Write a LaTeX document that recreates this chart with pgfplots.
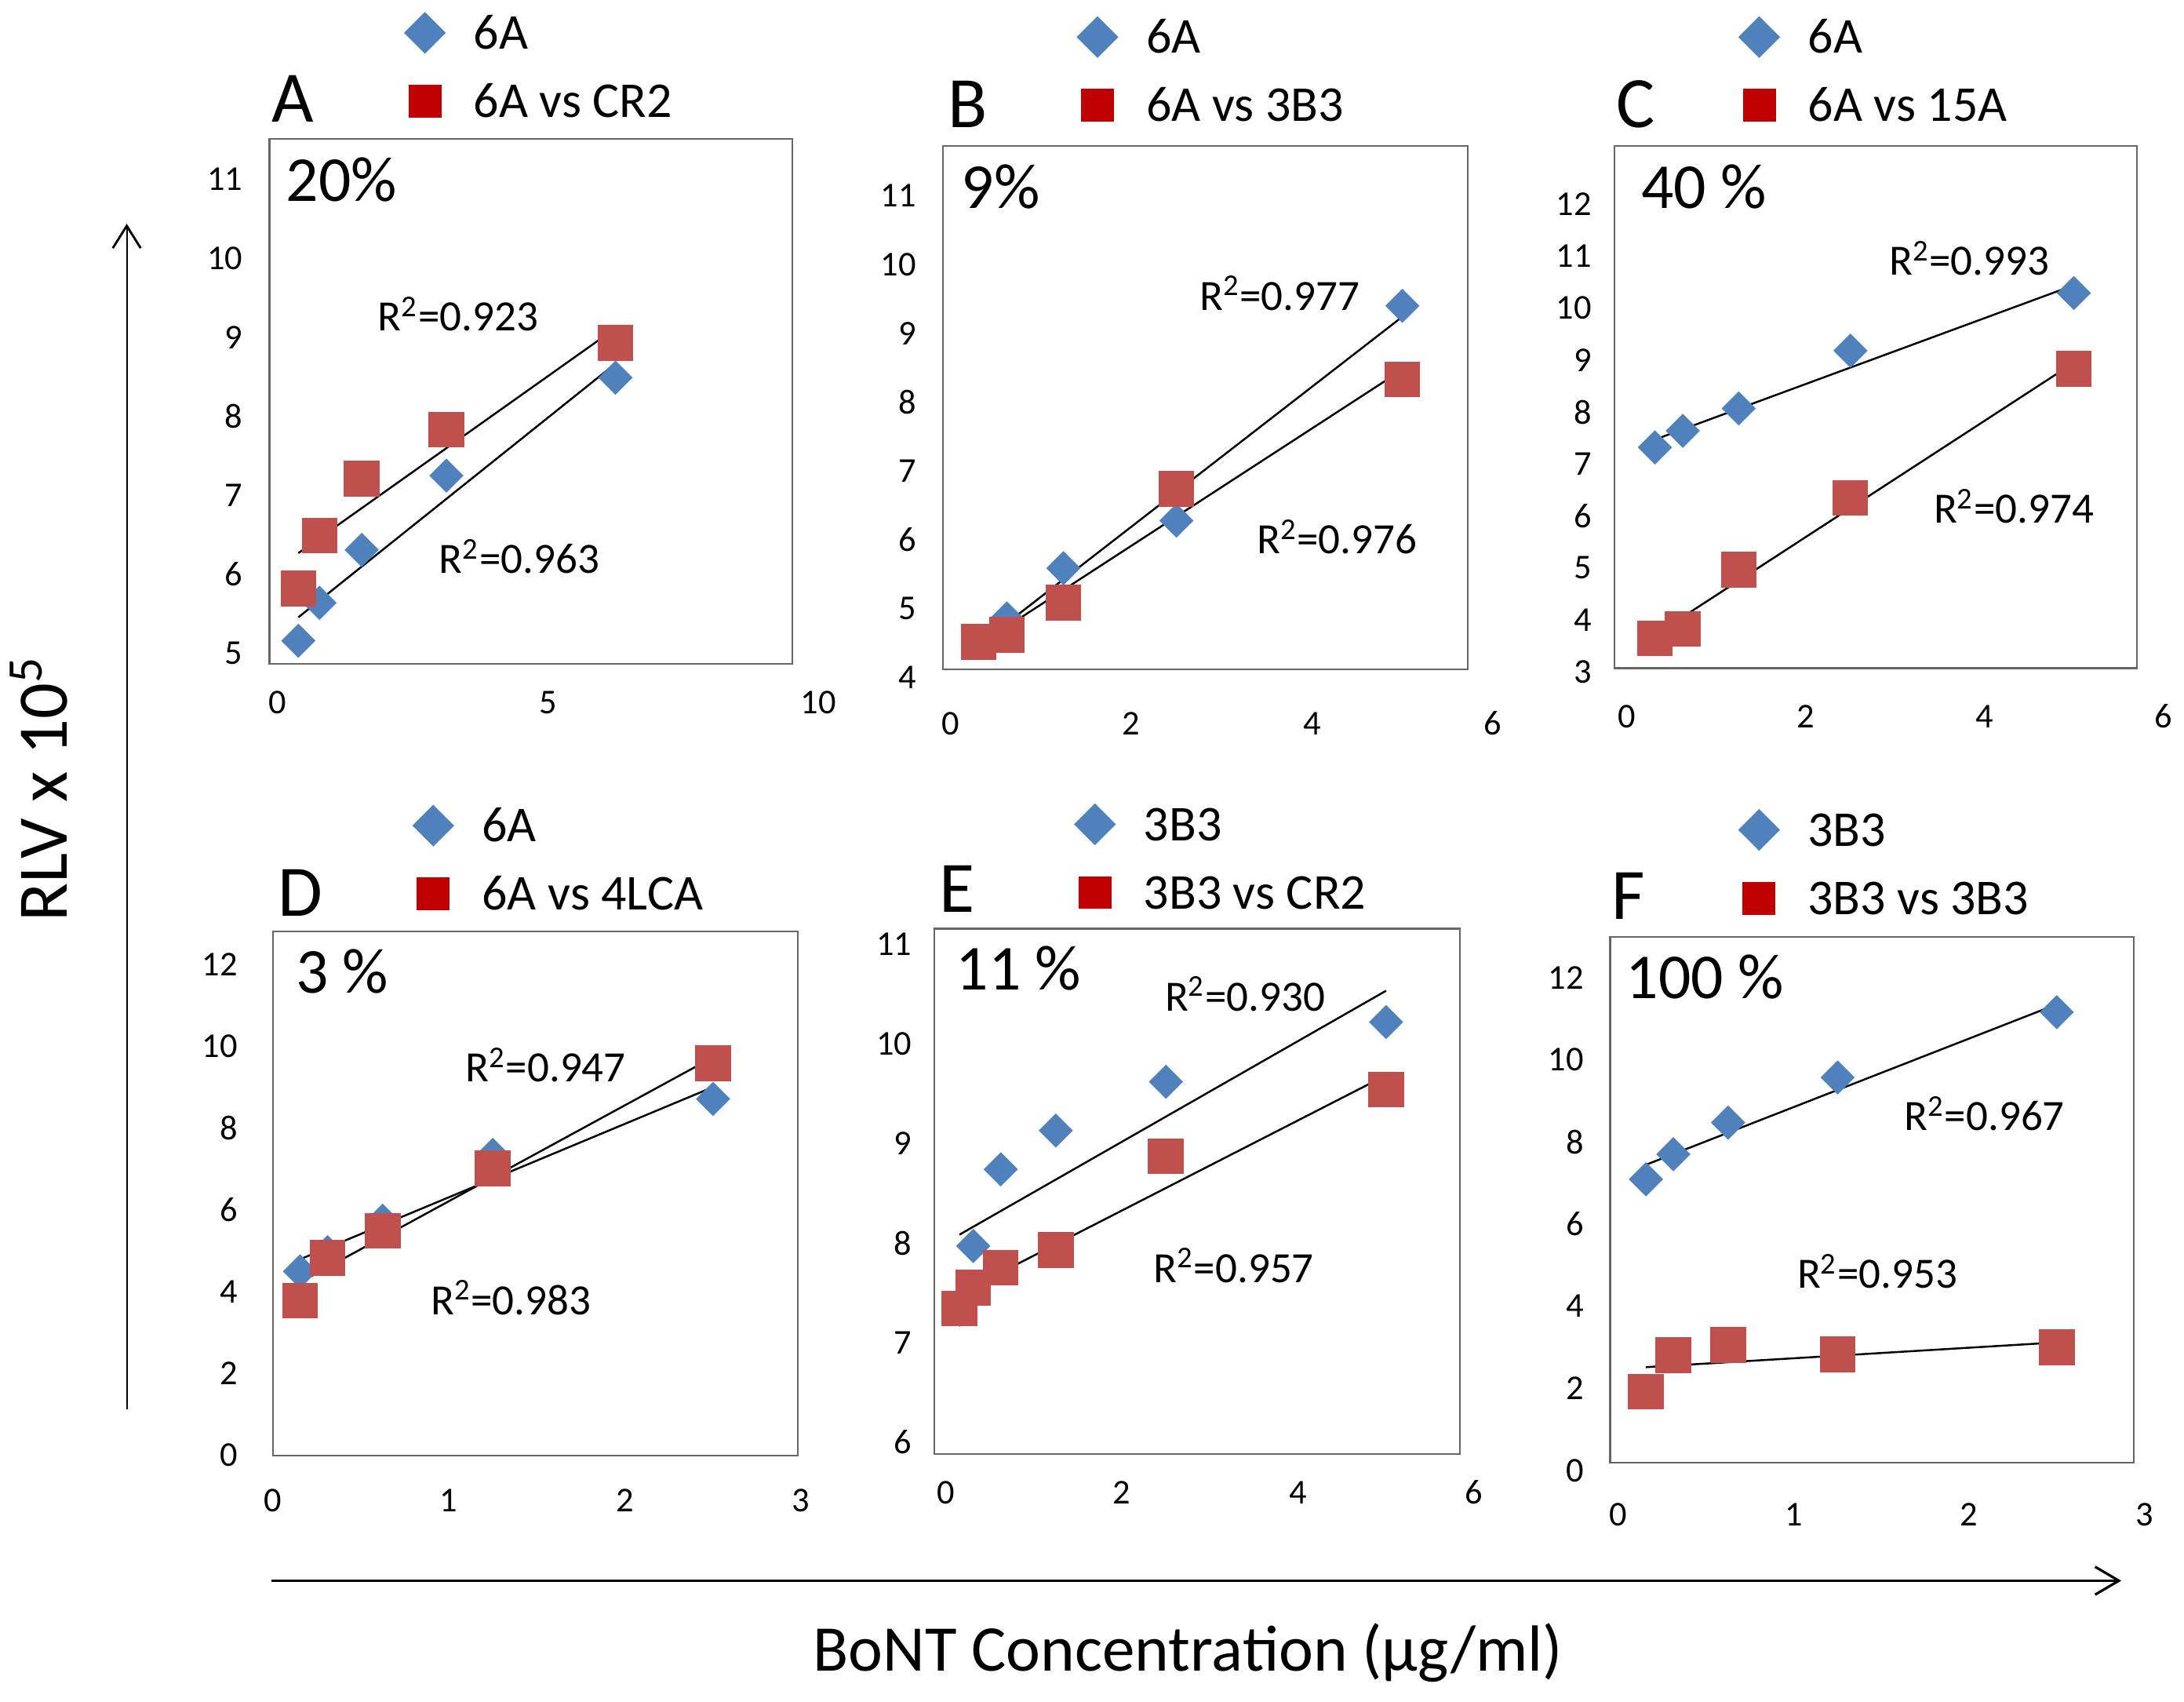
\documentclass[border=0pt]{standalone}
\usepackage{fontspec}
\setmainfont{Carlito}
\usepackage{pgfplots}
\usepackage{pgfplotstable}
\pgfplotsset{compat=1.18}
\usetikzlibrary{arrows.meta}

\definecolor{bl}{HTML}{4F81BD}
\definecolor{rd}{HTML}{C0504D}
\definecolor{lrd}{HTML}{C00000}

\pgfplotstableread{
x b r
0.39 5.16 5.82
0.78 5.64 6.49
1.56 6.31 7.21
3.125 7.25 7.83
6.25 8.49 8.93
}\tabA
\pgfplotstableread{
x b r
0.3125 4.50 4.52
0.625 4.86 4.62
1.25 5.59 5.09
2.5 6.28 6.74
5 9.40 8.33
}\tabB
\pgfplotstableread{
x b r
0.3125 7.32 3.65
0.625 7.64 3.83
1.25 8.07 4.97
2.5 9.18 6.35
5 10.29 8.83
}\tabC
\pgfplotstableread{
x b r
0.156 4.50 3.78
0.3125 4.97 4.83
0.625 5.74 5.49
1.25 7.35 7.02
2.5 8.72 9.59
}\tabD
\pgfplotstableread{
x b r
0.156 7.33 7.34
0.3125 7.97 7.55
0.625 8.74 7.75
1.25 9.13 7.93
2.5 9.62 8.87
5 10.22 9.54
}\tabE
\pgfplotstableread{
x b r
0.156 7.09 1.92
0.3125 7.70 2.81
0.625 8.47 3.06
1.25 9.57 2.83
2.5 11.16 3.00
}\tabF

\pgfplotsset{
  panel/.style={scale only axis, clip=false, xtick=\empty, ytick=\empty,
    axis line style={draw=black!60, line width=0.6bp},
    legend cell align=left,
    legend style={draw=none, fill=none, anchor=north west, inner sep=0pt, outer sep=0pt,
      column sep=10.3bp, row sep=10.1bp, font=\fontsize{18bp}{20bp}\selectfont,
      nodes={inner sep=0pt, outer sep=0pt, text height=13bp, text depth=1.4bp}}},
  bd/.style={only marks, mark=square*, mark size=4.14bp, color=bl, mark options={rotate=45, draw=bl, fill=bl}},
  rs/.style={only marks, mark=square*, mark size=6.2bp, color=rd, mark options={draw=rd, fill=rd}},
  lbd/.style={only marks, mark=square*, mark size=5.1bp, color=bl, mark options={rotate=45, draw=bl, fill=bl},
    legend image code/.code={\draw[##1] plot coordinates {(0bp,0bp)};}},
  lrs/.style={only marks, mark=square*, mark size=5.7bp, color=lrd, mark options={draw=lrd, fill=lrd},
    legend image code/.code={\draw[##1] plot coordinates {(0bp,0bp)};}},
  reg/.style={black, line width=0.7bp, no marks, forget plot},
}
\tikzset{
  tl/.style={inner sep=0pt, font=\fontsize{12.5bp}{12.5bp}\selectfont},
}

\begin{document}
\begin{tikzpicture}
\useasboundingbox (0,0) rectangle (784bp,610.8bp);

% ---------------- A
\begin{axis}[panel, at={(96.75bp,372.5bp)}, anchor=south west, width=187.75bp, height=188.5bp,
  xmin=-0.143, xmax=9.523, ymin=4.866, ymax=11.514, legend style={at={(0.2586,1.2398)}}]
\addlegendimage{lbd}\addlegendentry{6A}
\addlegendimage{lrs}\addlegendentry{6A vs CR2}
\addplot[bd, forget plot] table[x=x,y=b]{\tabA};
\addplot[rs, forget plot] table[x=x,y=r]{\tabA};
\addplot[reg] table[x=x, y={create col/linear regression={y=b}}]{\tabA};
\addplot[reg] table[x=x, y={create col/linear regression={y=r}}]{\tabA};
\pgfplotsinvokeforeach{5,6,...,11}{\node[tl, anchor=east, xshift=-9.5bp] at (axis cs:-0.143,#1) {#1};}
\pgfplotsinvokeforeach{0,5,10}{\node[tl, anchor=base, yshift=-17.75bp] at (axis cs:#1,4.866) {#1};}
\end{axis}

% ---------------- B
\begin{axis}[panel, at={(338.5bp,370.5bp)}, anchor=south west, width=188.5bp, height=188bp,
  xmin=-0.082, xmax=5.727, ymin=4.117, ymax=11.726, legend style={at={(0.256,1.2457)}}]
\addlegendimage{lbd}\addlegendentry{6A}
\addlegendimage{lrs}\addlegendentry{6A vs 3B3}
\addplot[bd, forget plot] table[x=x,y=b]{\tabB};
\addplot[rs, forget plot] table[x=x,y=r]{\tabB};
\addplot[reg] table[x=x, y={create col/linear regression={y=b}}]{\tabB};
\addplot[reg] table[x=x, y={create col/linear regression={y=r}}]{\tabB};
\pgfplotsinvokeforeach{4,5,...,11}{\node[tl, anchor=east, xshift=-9.5bp] at (axis cs:-0.082,#1) {#1};}
\pgfplotsinvokeforeach{0,2,4,6}{\node[tl, anchor=base, yshift=-23.5bp] at (axis cs:#1,4.117) {#1};}
\end{axis}

% ---------------- C
\begin{axis}[panel, at={(579.5bp,371bp)}, anchor=south west, width=187.5bp, height=187.5bp,
  xmin=-0.1415, xmax=5.703, ymin=3.073, ymax=13.124, legend style={at={(0.239,1.2464)}}]
\addlegendimage{lbd}\addlegendentry{6A}
\addlegendimage{lrs}\addlegendentry{6A vs 15A}
\addplot[bd, forget plot] table[x=x,y=b]{\tabC};
\addplot[rs, forget plot] table[x=x,y=r]{\tabC};
\addplot[reg] table[x=x, y={create col/linear regression={y=b}}]{\tabC};
\addplot[reg] table[x=x, y={create col/linear regression={y=r}}]{\tabC};
\pgfplotsinvokeforeach{3,4,...,12}{\node[tl, anchor=east, xshift=-8bp] at (axis cs:-0.1415,#1) {#1};}
\pgfplotsinvokeforeach{0,2,4,6}{\node[tl, anchor=base, yshift=-21.4bp] at (axis cs:#1,3.073) {#1};}
\end{axis}

% ---------------- D
\begin{axis}[panel, at={(98bp,88.5bp)}, anchor=south west, width=188.5bp, height=188bp,
  xmin=0.0025, xmax=2.983, ymin=0, ymax=12.814, legend style={at={(0.267,1.2404)}}]
\addlegendimage{lbd}\addlegendentry{6A}
\addlegendimage{lrs}\addlegendentry{6A vs 4LCA}
\addplot[bd, forget plot] table[x=x,y=b]{\tabD};
\addplot[rs, forget plot] table[x=x,y=r]{\tabD};
\addplot[reg] table[x=x, y={create col/linear regression={y=b}}]{\tabD};
\addplot[reg] table[x=x, y={create col/linear regression={y=r}}]{\tabD};
\pgfplotsinvokeforeach{0,2,...,12}{\node[tl, anchor=east, xshift=-12.5bp] at (axis cs:0.0025,#1) {#1};}
\pgfplotsinvokeforeach{0,1,2,3}{\node[tl, anchor=base, yshift=-20.2bp] at (axis cs:#1,0) {#1};}
\end{axis}

% ---------------- E
\begin{axis}[panel, at={(335.5bp,89bp)}, anchor=south west, width=188.5bp, height=188.5bp,
  xmin=-0.126, xmax=5.836, ymin=5.88, ymax=11.158, legend style={at={(0.267,1.2371)}}]
\addlegendimage{lbd}\addlegendentry{3B3}
\addlegendimage{lrs}\addlegendentry{3B3 vs CR2}
\addplot[bd, forget plot] table[x=x,y=b]{\tabE};
\addplot[rs, forget plot] table[x=x,y=r]{\tabE};
\addplot[reg] table[x=x, y={create col/linear regression={y=b}}]{\tabE};
\addplot[reg] table[x=x, y={create col/linear regression={y=r}}]{\tabE};
\pgfplotsinvokeforeach{6,7,...,11}{\node[tl, anchor=east, xshift=-8bp] at (axis cs:-0.126,#1) {#1};}
\pgfplotsinvokeforeach{0,2,4,6}{\node[tl, anchor=base, yshift=-18bp] at (axis cs:#1,5.88) {#1};}
\end{axis}

% ---------------- F
\begin{axis}[panel, at={(578bp,86bp)}, anchor=south west, width=188bp, height=188.5bp,
  xmin=-0.048, xmax=2.94, ymin=0.198, ymax=12.988, legend style={at={(0.246,1.2424)}}]
\addlegendimage{lbd}\addlegendentry{3B3}
\addlegendimage{lrs}\addlegendentry{3B3 vs 3B3}
\addplot[bd, forget plot] table[x=x,y=b]{\tabF};
\addplot[rs, forget plot] table[x=x,y=r]{\tabF};
\addplot[reg] table[x=x, y={create col/linear regression={y=b}}]{\tabF};
\addplot[reg] table[x=x, y={create col/linear regression={y=r}}]{\tabF};
\pgfplotsinvokeforeach{0,2,...,12}{\node[tl, anchor=east, xshift=-9.25bp] at (axis cs:-0.048,#1) {#1};}
\pgfplotsinvokeforeach{0,1,2,3}{\node[tl, anchor=base, yshift=-22.7bp] at (axis cs:#1,0.198) {#1};}
\end{axis}

% ---------------- annotations (coordinates in reference pixels / 2)
\begin{scope}[x=0.5bp, y=-0.5bp, yshift=611bp]
\tikzset{
  let/.style={anchor=base west, inner sep=0pt, font=\fontsize{26bp}{26bp}\selectfont},
  pct/.style={anchor=base west, inner sep=0pt, font=\fontsize{23bp}{23bp}\selectfont},
  rr/.style={anchor=base west, inner sep=0pt, font=\fontsize{15.5bp}{15.5bp}\selectfont},
}
\node[let] at (195,88) {A};
\node[let] at (680,92) {B};
\node[let] at (1160,92) {C};
\node[let] at (199,658) {D};
\node[let] at (674,655) {E};
\node[let] at (1157,660) {F};

\node[pct] at (205,145) {20\%};
\node[pct] at (690,150) {9\%};
\node[pct] at (1178,150) {40 \%};
\node[pct] at (212,713) {3 \%};
\node[pct] at (686,711) {11 \%};
\node[pct] at (1167,717) {100 \%};

\node[rr] at (271,238) {R\textsuperscript{2}=0.923};
\node[rr] at (315,412) {R\textsuperscript{2}=0.963};
\node[rr] at (861,223) {R\textsuperscript{2}=0.977};
\node[rr] at (902,398) {R\textsuperscript{2}=0.976};
\node[rr] at (1356,198) {R\textsuperscript{2}=0.993};
\node[rr] at (1388,376) {R\textsuperscript{2}=0.974};
\node[rr] at (334,777) {R\textsuperscript{2}=0.947};
\node[rr] at (309,944) {R\textsuperscript{2}=0.983};
\node[rr] at (836,726) {R\textsuperscript{2}=0.930};
\node[rr] at (828,921) {R\textsuperscript{2}=0.957};
\node[rr] at (1367,812) {R\textsuperscript{2}=0.967};
\node[rr] at (1290,925) {R\textsuperscript{2}=0.953};

\draw[line width=0.6bp, -{Straight Barb[length=8bp,width=10bp,line width=0.8bp]}] (91,1012) -- (91,161);
\draw[line width=0.85bp, -{Straight Barb[length=8.5bp,width=10bp,line width=0.9bp]}] (195,1135) -- (1523,1135);

\node[anchor=base, inner sep=0pt, rotate=90, font=\fontsize{25.5bp}{25.5bp}\selectfont] at (48,567) {RLV x 10\textsuperscript{5}};
\node[anchor=base, inner sep=0pt, font=\fontsize{23.4bp}{23.4bp}\selectfont] at (853,1200) {BoNT Concentration (μg/ml)};
\end{scope}
\end{tikzpicture}
\end{document}
